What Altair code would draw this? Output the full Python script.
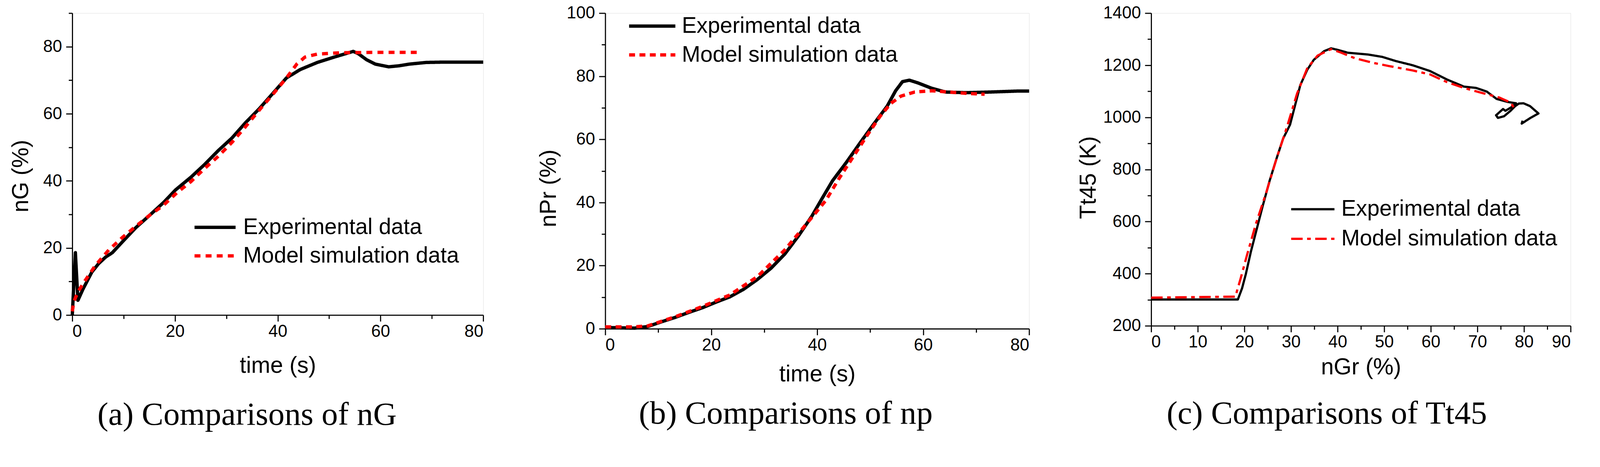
import altair as alt
import pandas as pd

EXP = "Experimental data"
MOD = "Model simulation data"

# ---------------- panel (a) : n_G vs time ----------------
a_exp_t = [0, 0.6, 1.1, 2.1, 3.8, 5.1, 6.5, 7.8, 9.8, 12.4, 15.1, 17.8, 20.1, 23.1, 25.7, 28.4,
           31.1, 33.7, 36.4, 39.0, 41.7, 44.4, 47.7, 51.0, 54.7, 55.7, 57.3, 59.0, 61.6, 63.6,
           65.6, 68.9, 72.3, 80.0]
a_exp_v = [0, 18.6, 4.4, 7.8, 12.8, 15.3, 17.3, 18.6, 21.9, 26.1, 29.8, 33.6, 37.3, 41.1, 44.8, 49.0,
           52.8, 57.3, 61.5, 66.0, 70.7, 73.2, 75.3, 76.9, 78.6, 77.9, 76.1, 74.8, 74.0, 74.3,
           74.8, 75.3, 75.4, 75.4]
a_mod_t = [0, 0.3, 1.1, 2.5, 4.5, 7.1, 9.8, 12.4, 15.1, 17.8, 20.4, 23.1, 25.7, 28.4, 31.1, 33.7,
           36.4, 39.0, 41.7, 43.7, 45.3, 47.7, 52.3, 59.0, 67.3]
a_mod_v = [1.1, 4.0, 6.9, 10.3, 14.8, 19.4, 23.2, 26.5, 29.8, 32.8, 36.5, 39.8, 43.6, 47.3, 51.5, 56.1,
           61.1, 65.7, 70.7, 74.8, 76.9, 77.8, 78.2, 78.3, 78.3]

# ---------------- panel (b) : n_Pr vs time ----------------
b_exp_t = [0, 5.5, 8.0, 10.6, 13.2, 15.8, 18.4, 21.0, 23.5, 26.1, 28.7, 31.3, 33.9, 36.5, 39.0, 41.0,
           42.9, 45.5, 48.1, 50.6, 53.2, 54.8, 56.1, 57.4, 59.0, 61.6, 64.2, 68.1, 72.6, 77.7, 80.0]
b_exp_v = [0.4, 0.2, 0.7, 2.2, 3.6, 5.2, 6.7, 8.5, 10.1, 12.5, 15.6, 19.2, 23.7, 29.5, 35.7, 41.5,
           46.9, 52.7, 58.9, 64.7, 70.5, 75.4, 78.3, 78.75, 77.9, 76.2, 75.0, 74.8, 75.0, 75.3, 75.3]
b_mod_t = [0, 5.5, 8.0, 13.2, 18.4, 23.5, 28.7, 33.9, 39.0, 41.6, 44.2, 46.8, 49.4, 51.9, 53.9, 55.8,
           58.4, 61.6, 64.8, 68.1, 71.6]
b_mod_v = [0.6, 0.6, 0.9, 3.8, 7.1, 10.7, 16.5, 25.0, 35.3, 40.6, 47.8, 54.5, 61.2, 67.4, 71.4, 73.7,
           75.0, 75.4, 75.0, 74.6, 74.3]

# ---------------- panel (c) : T_t45 vs n_Gr (path, kept in drawing order) ----------------
c_exp_x = [0, 18.6, 19.5, 20.3, 21.4, 22.5, 23.9, 25.4, 26.9, 28.3, 29.8, 30.9, 32.0, 33.5, 34.9, 37.1,
           38.6, 40.0, 42.2, 46.6, 49.6, 52.5, 56.1, 59.8, 63.5, 67.1, 69.7, 72.0, 74.1, 76.5, 78.3,
           77.3, 76.0, 75.5, 74.0, 74.4, 75.7, 77.1, 78.1, 78.9, 79.9, 81.3, 83.1, 81.3, 79.5, 79.7]
c_exp_y = [301, 301, 344, 398, 485, 561, 658, 756, 842, 918, 972, 1048, 1124, 1183, 1221, 1254,
           1265, 1259, 1248, 1241, 1232, 1216, 1200, 1178, 1145, 1118, 1113, 1099, 1071, 1059, 1054,
           1039, 1025, 1032, 1008, 998, 1004, 1025, 1043, 1053, 1054, 1043, 1015, 997, 976, 987]
c_mod_x = [0, 18.1, 18.4, 19.2, 20.6, 22.5, 24.7, 26.9, 29.1, 31.3, 33.5, 35.7, 38.6, 40.8, 43.7, 47.4,
           51.0, 56.1, 59.8, 63.5, 67.1, 70.5, 74.7, 77.1, 78.0]
c_mod_y = [308, 312, 333, 382, 474, 593, 712, 842, 961, 1091, 1189, 1237, 1262, 1248, 1227, 1210,
           1197, 1180, 1165, 1135, 1113, 1096, 1076, 1057, 1033]

# axis tick values
a_x_major = [0, 20, 40, 60, 80]
a_x_minor = [10, 30, 50, 70]
a_y_major = [0, 20, 40, 60, 80]
a_y_minor = [10, 30, 50, 70, 90]
b_x_major = [0, 20, 40, 60, 80]
b_x_minor = [10, 30, 50, 70]
b_y_major = [0, 20, 40, 60, 80, 100]
b_y_minor = [10, 30, 50, 70, 90]
c_x_major = [0, 10, 20, 30, 40, 50, 60, 70, 80, 90]
c_x_minor = [5, 15, 25, 35, 45, 55, 65, 75, 85]
c_y_major = [200, 400, 600, 800, 1000, 1200, 1400]
c_y_minor = [300, 500, 700, 900, 1100, 1300]

SANS = "Liberation Sans"
SERIF = "Liberation Serif"
SYM = 40  # legend symbol base size (sqrt of symbolSize)


def frame(xs_e, ys_e, xs_m, ys_m):
    rows = []
    for i, (x, y) in enumerate(zip(xs_e, ys_e)):
        rows.append({"x": x, "y": y, "series": EXP, "idx": i})
    for i, (x, y) in enumerate(zip(xs_m, ys_m)):
        rows.append({"x": x, "y": y, "series": MOD, "idx": i})
    return pd.DataFrame(rows)


def panel(df, w, h, xdom, ydom, xmaj, xmin, ymaj, ymin, xtitle, ytitle, ytx, yty, xty,
          dashes, lw, leg_x, leg_y, sym_len, row_pad, lab_off, caption, cap_dx, cap_off):
    xs = alt.Scale(domain=xdom, nice=False, zero=False)
    ys = alt.Scale(domain=ydom, nice=False, zero=False)
    k = sym_len / SYM
    leg = alt.Legend(title=None, orient="none", legendX=leg_x, legendY=leg_y, padding=0,
                     symbolType=f"M{-k:.3f},0H{k:.3f}", symbolSize=SYM * SYM, symbolStrokeWidth=lw,
                     symbolFillColor="transparent",
                     labelFont=SANS, labelFontSize=60, labelColor="black", labelLimit=0,
                     labelOffset=lab_off, rowPadding=row_pad)
    axis_common = dict(domainColor="black", domainWidth=3, tickColor="black", tickWidth=3,
                       grid=False, labelFont=SANS, labelFontSize=46, labelColor="black",
                       titleFont=SANS, titleFontSize=62, titleFontWeight="normal",
                       titleColor="black", titleBaseline="middle", titleAlign="center",
                       format="d", tickSize=17)
    main = alt.Chart(df).mark_line(strokeCap="butt", strokeJoin="round", strokeWidth=lw).encode(
        x=alt.X("x:Q", scale=xs,
                axis=alt.Axis(values=xmaj, labelPadding=5, title=xtitle,
                              titleY=xty, orient="bottom", **axis_common)),
        y=alt.Y("y:Q", scale=ys,
                axis=alt.Axis(values=ymaj, labelPadding=11, title=ytitle,
                              titleX=ytx, titleY=yty, orient="left", **axis_common)),
        color=alt.Color("series:N", scale=alt.Scale(domain=[EXP, MOD], range=["#000000", "#ff0000"]),
                        legend=leg),
        strokeDash=alt.StrokeDash("series:N", scale=alt.Scale(domain=[EXP, MOD], range=dashes),
                                  legend=leg),
        order="idx:Q",
        detail="series:N",
    )
    minor = alt.Chart(df).mark_line(opacity=0).encode(
        x=alt.X("x:Q", scale=xs,
                axis=alt.Axis(values=xmin, tickSize=10, tickColor="black", tickWidth=3,
                              labels=False, domain=False, grid=False, title=None, orient="bottom")),
        y=alt.Y("y:Q", scale=ys,
                axis=alt.Axis(values=ymin, tickSize=10, tickColor="black", tickWidth=3,
                              labels=False, domain=False, grid=False, title=None, orient="left")),
        detail="series:N",
    )
    return alt.layer(main, minor).resolve_axis(x="independent", y="independent").properties(
        width=w, height=h,
        title=alt.TitleParams(text=caption, orient="bottom", anchor="middle", frame="group",
                              dx=cap_dx, offset=cap_off, font=SERIF, fontSize=88,
                              fontWeight="normal", color="black", baseline="alphabetic"),
    )


pa = panel(frame(a_exp_t, a_exp_v, a_mod_t, a_mod_v), 1111, 816, [0, 80], [0, 90],
           a_x_major, a_x_minor, a_y_major, a_y_minor, "time (s)", "nG (%)", -139, 440, 137,
           [[1, 0], [16, 14]], 9, 356, 549, 111, 17, 46,
           "(a) Comparisons of nG", -83, 129)
pb = panel(frame(b_exp_t, b_exp_v, b_mod_t, b_mod_v), 1146, 853, [0, 80], [0, 100],
           b_x_major, b_x_minor, b_y_major, b_y_minor, "time (s)", "nPr (%)", -153, 473, 123,
           [[1, 0], [16, 12]], 9, 97, 5, 125, 18, 50,
           "(b) Comparisons of np", -85, 102)
pc = panel(frame(c_exp_x, c_exp_y, c_mod_x, c_mod_y), 1134, 845, [0, 90], [200, 1400],
           c_x_major, c_x_minor, c_y_major, c_y_minor, "nGr (%)", "Tt45 (K)", -170, 444, 112,
           [[1, 0], [31, 12, 10, 12]], 6, 407, 500, 117, 20, 47,
           "(c) Comparisons of Tt45", -92, 121)

chart = alt.hconcat(pa, pb, pc, spacing=330, bounds="flush").resolve_scale(
    color="independent", strokeDash="independent"
).resolve_legend(
    color="independent", strokeDash="independent"
).properties(
    padding={"left": 16, "top": -30, "right": 69, "bottom": 51}
).configure_view(stroke=None).configure(background="white")

chart.save("out.html", embed_options={"renderer": "svg", "actions": False})
